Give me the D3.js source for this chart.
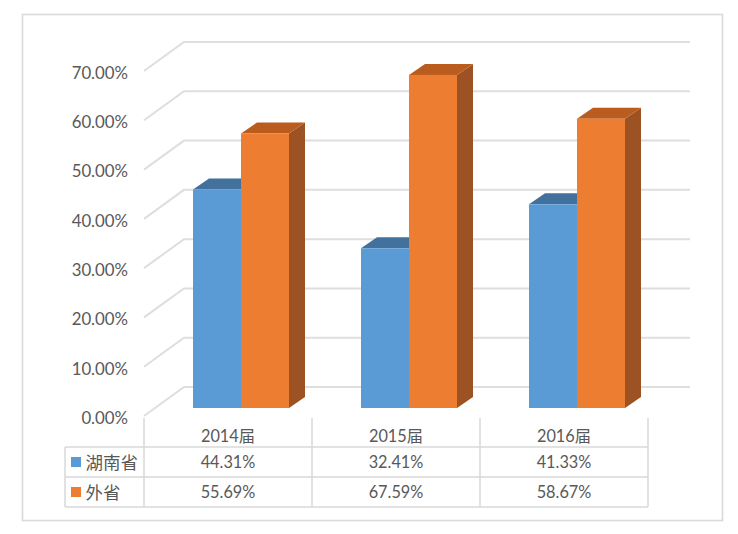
<!DOCTYPE html>
<html lang="zh">
<head>
<meta charset="UTF-8">
<title>湖南省 / 外省</title>
<script src="https://cdnjs.cloudflare.com/ajax/libs/d3/7.8.5/d3.min.js"></script>
<style>
    html, body { margin: 0; padding: 0; background: #fff; }
    text { font-family: Lato, "Noto Sans CJK SC", sans-serif; fill: #595959; }
</style>
</head>
<body>
<div id="chart"></div>
<script>
const categories = ["2014届", "2015届", "2016届"];
const seriesNames = ["湖南省", "外省"];
const hunan = [44.31, 32.41, 41.33];
const waisheng = [55.69, 67.59, 58.67];
const yTicks = [0, 10, 20, 30, 40, 50, 60, 70];
const colors = ["#5b9bd5", "#ed7d31"];
const topColors = ["#41719c", "#ba5c1e"];
const sideColors = ["#3a6a94", "#9c5222"];

const width = 738, height = 534;
const svg = d3.select("#chart").append("svg")
    .attr("width", width).attr("height", height)
    .style("display", "block");

// outer frame
svg.append("rect").attr("x", 22.5).attr("y", 14.5).attr("width", 700).attr("height", 506)
    .attr("fill", "#fff").attr("stroke", "#d9d9d9").attr("stroke-width", 1.6);

// scales, y is the front plane of the bars
const x = d3.scaleBand().domain(categories).range([144, 648]);
const y = d3.scaleLinear().domain([0, 70]).range([408, 63]);
const wallDx = 40, wallDy = -21;   // back wall offset from the bar base plane
const axisDrop = 8;                // axis front edge sits a bit under the bar base
const barW = 48, barShift = 13, depthX = 16, depthY = -11;

// gridlines on the side and back wall
const grid = svg.append("g").attr("fill", "none").attr("stroke", "#dedede").attr("stroke-width", 2);
yTicks.forEach(t => {
    const yy = y(t) + axisDrop;
    grid.append("path")
        .attr("d", `M${x.range()[0]},${yy}L${x.range()[0] + wallDx},${y(t) + wallDy}H690`);
});

// y labels
svg.append("g").selectAll("text").data(yTicks).join("text")
    .attr("x", 128).attr("y", d => y(d) + axisDrop + 2)
    .attr("dy", "0.35em").attr("text-anchor", "end")
    .attr("font-size", 16.8)
    .text(d => d.toFixed(2) + "%");

// bars, drawn as front, top and side faces; 湖南省 first so 外省 sits in front of it
const seriesValues = [hunan, waisheng];
categories.forEach((c, i) => {
    const cx = x(c) + x.bandwidth() / 2 + barShift;
    [0, 1].forEach(s => {
        const v = seriesValues[s][i];
        const x0 = cx + (s - 1) * barW, x1 = x0 + barW;
        const yt = y(v), yb = y(0);
        const g = svg.append("g");
        g.append("path").attr("fill", sideColors[s])
            .attr("d", `M${x1},${yt}l${depthX},${depthY}V${yb + depthY}L${x1},${yb}Z`);
        g.append("path").attr("fill", topColors[s])
            .attr("d", `M${x0},${yt}l${depthX},${depthY}H${x1 + depthX}L${x1},${yt}Z`);
        g.append("rect").attr("fill", colors[s])
            .attr("x", x0).attr("y", yt).attr("width", barW).attr("height", yb - yt);
    });
});

// data table under the plot
const rowY = [447, 477, 507];
const tableLeft = 65;
const table = svg.append("g").attr("stroke", "#d9d9d9").attr("stroke-width", 1.5);
rowY.forEach(r => table.append("line")
    .attr("x1", tableLeft).attr("x2", x.range()[1]).attr("y1", r).attr("y2", r));
table.append("line").attr("x1", tableLeft).attr("x2", tableLeft).attr("y1", rowY[0]).attr("y2", rowY[2]);
[...categories.map(c => x(c)), x.range()[1]].forEach(px => table.append("line")
    .attr("x1", px).attr("x2", px).attr("y1", 418).attr("y2", rowY[2]));

const mid = c => x(c) + x.bandwidth() / 2;
svg.append("g").selectAll("text").data(categories).join("text")
    .attr("x", mid).attr("y", 436).attr("dy", "0.35em")
    .attr("text-anchor", "middle").attr("font-size", 16.3).text(d => d);

seriesNames.forEach((name, s) => {
    const cy = (rowY[s] + rowY[s + 1]) / 2;
    svg.append("rect").attr("x", 71).attr("y", cy - 5).attr("width", 10).attr("height", 10)
        .attr("fill", colors[s]);
    svg.append("text").attr("x", 85.5).attr("y", cy + 0.5).attr("dy", "0.35em")
        .attr("font-size", 17.5).text(name);
    svg.append("g").selectAll("text").data(seriesValues[s]).join("text")
        .attr("x", (d, i) => mid(categories[i])).attr("y", cy + 0.5).attr("dy", "0.35em")
        .attr("text-anchor", "middle").attr("font-size", 16.3)
        .text(d => d.toFixed(2) + "%");
});
</script>
</body>
</html>
